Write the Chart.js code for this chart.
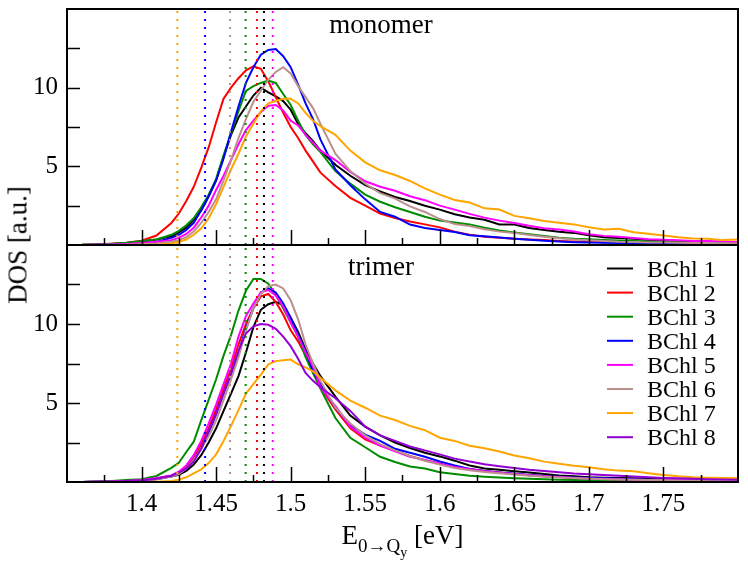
<!DOCTYPE html>
<html>
<head>
<meta charset="utf-8">
<script src="https://cdn.jsdelivr.net/npm/chart.js@4.4.1/dist/chart.umd.min.js"></script>
<style>
  body { margin: 0; background: #fff; }
  #wrap { position: relative; width: 748px; height: 562px; background: #fff; }
  canvas { position: absolute; left: 0; }
  #ylabel {
    position: absolute; left: 18px; top: 245px;
    transform: translate(-50%, -50%) rotate(-90deg);
    font: 27px "Liberation Serif", "Times New Roman", serif;
    white-space: nowrap; color: #000;
  }
</style>
</head>
<body>
<div id="wrap">
  <canvas id="chart-top" width="748" height="245" style="top:0"></canvas>
  <canvas id="chart-bottom" width="748" height="318" style="top:244px"></canvas>
  <div id="ylabel">DOS [a.u.]</div>
</div>
<script>
// energy grid [eV]
const energy = [1.36,1.37,1.38,1.39,1.40,1.41,1.42,
  1.425,1.43,1.435,1.44,1.445,1.45,1.455,1.46,1.465,1.47,1.475,1.48,1.485,1.49,1.495,1.50,1.505,1.51,1.515,1.52,
  1.53,1.54,1.55,1.56,1.57,1.58,1.59,1.60,1.61,1.62,1.63,1.64,1.65,1.66,1.67,1.68,1.69,1.70,
  1.71,1.72,1.73,1.74,1.75,1.76,1.77,1.78,1.79,1.80];

const labels = ['BChl 1','BChl 2','BChl 3','BChl 4','BChl 5','BChl 6','BChl 7','BChl 8'];
const colors = ['#000000','#ff0000','#008c00','#0000ff','#ff00ff','#bc8f8f','#ffa500','#9400d3'];

// monomer DOS
const mono1 = [0.01,0.03,0.07,0.12,0.22,0.35,0.55, 0.8,1.1,1.6, 2.2,3.1,4.1,5.6,7.0,8.1,8.8,9.5,10.0,9.7,9.45,9.15,8.6,7.7,7.1,6.6,6.0,
  5.1,4.4,3.8,3.4,3.05,2.8,2.5,2.25,1.95, 1.75,1.6,1.3,1.3,1.08,0.95,0.84,0.77,0.62,0.5,0.45,0.39,0.32,0.28,0.25,0.23,0.2,0.17,0.14];
const mono2 = [0.01,0.03,0.08,0.15,0.27,0.6,1.4, 2.0,2.8,3.7, 4.9,6.2,7.8,9.3,10.0,10.6,11.1,11.35,11.2,10.4,9.4,8.4,7.5,6.8,6.0,5.3,4.6,
  3.75,3.0,2.5,2.0,1.72,1.5,1.31,1.12,0.85, 0.66,0.53,0.46,0.4,0.35,0.31,0.26,0.22,0.2,0.17,0.16,0.14,0.12,0.11,0.1,0.09,0.08,0.07,0.07];
const mono3 = [0.01,0.03,0.08,0.15,0.25,0.35,0.65, 0.9,1.25,1.7, 2.4,3.2,4.2,5.7,7.1,8.5,9.8,10.1,10.3,10.45,10.3,9.6,8.9,7.9,7.0,6.4,5.9,
  4.7,3.9,3.2,2.75,2.4,2.1,1.8,1.55,1.43, 1.31,1.1,0.93,0.8,0.68,0.58,0.46,0.39,0.36,0.32,0.29,0.25,0.22,0.19,0.17,0.15,0.13,0.11,0.1];
const mono4 = [0.0,0.01,0.02,0.05,0.1,0.2,0.45, 0.65,0.95,1.4, 2.2,3.1,4.1,5.5,7.2,8.8,10.3,11.3,12.1,12.4,12.45,12.0,11.3,10.2,9.0,8.0,6.7,
  4.8,3.8,2.9,2.1,1.8,1.3,1.08,0.96,0.82, 0.62,0.55,0.47,0.4,0.33,0.27,0.22,0.18,0.16,0.14,0.12,0.11,0.1,0.09,0.09,0.08,0.08,0.07,0.07];
const mono5 = [0.0,0.01,0.03,0.06,0.12,0.2,0.3, 0.45,0.7,1.1, 1.75,2.5,3.5,4.4,5.4,6.4,7.3,7.9,8.45,8.85,8.9,8.55,7.9,7.6,7.0,6.5,6.0,
  5.4,4.65,4.05,3.7,3.45,3.1,2.85,2.5,2.25, 1.98,1.74,1.55,1.4,1.22,1.07,0.99,0.86,0.69,0.58,0.53,0.45,0.37,0.33,0.3,0.26,0.25,0.22,0.18];
const mono6 = [0.0,0.0,0.01,0.02,0.05,0.1,0.2, 0.3,0.5,0.85, 1.4,2.1,2.9,4.1,5.4,6.8,8.0,9.1,9.8,10.5,11.0,11.3,10.9,10.1,9.4,8.7,7.7,
  5.8,4.7,3.9,3.3,2.95,2.45,2.1,1.65,1.33, 1.2,1.0,0.85,0.77,0.63,0.52,0.43,0.35,0.3,0.26,0.21,0.19,0.16,0.155,0.145,0.13,0.12,0.11,0.1];
const mono7 = [0.0,0.0,0.0,0.0,0.01,0.02,0.1, 0.2,0.35,0.65, 1.05,1.7,2.6,3.7,4.8,5.8,6.9,7.7,8.5,9.0,9.15,9.3,9.3,9.0,8.4,7.9,7.55,
  7.0,6.0,5.25,4.75,4.45,4.07,3.6,3.2,2.86, 2.7,2.33,2.25,1.85,1.7,1.52,1.42,1.31,1.13,0.99,1.03,0.81,0.71,0.61,0.49,0.41,0.39,0.31,0.35];

// trimer DOS
const tri1 = [0.0,0.01,0.03,0.06,0.1,0.18,0.35, 0.45,0.7,1.1, 1.7,2.5,3.4,4.5,5.6,6.7,8.2,9.8,10.9,11.25,11.4,11.2,10.4,9.5,8.4,7.5,6.7,
  5.4,4.2,3.5,2.95,2.5,2.15,1.85,1.62,1.35, 1.05,0.86,0.77,0.68,0.6,0.5,0.41,0.36,0.3,0.27,0.26,0.24,0.22,0.2,0.17,0.16,0.15,0.14,0.13];
const tri2 = [0.0,0.02,0.03,0.05,0.1,0.22,0.4, 0.6,0.95,1.5, 2.4,3.4,4.6,5.9,7.2,8.7,10.0,11.0,11.75,11.9,11.4,10.6,9.6,8.9,8.0,7.2,6.0,
  4.6,3.4,2.7,2.3,2.0,1.65,1.38,1.15,0.95, 0.82,0.7,0.6,0.5,0.43,0.37,0.32,0.27,0.23,0.2,0.17,0.15,0.13,0.12,0.11,0.1,0.09,0.08,0.08];
const tri3 = [0.0,0.03,0.07,0.12,0.17,0.38,0.9, 1.22,1.9,2.55, 3.9,5.2,6.5,8.0,9.3,10.85,12.1,12.85,12.85,12.55,11.85,11.0,10.1,9.2,7.9,6.9,5.9,
  4.05,2.8,2.2,1.6,1.27,0.98,0.85,0.62,0.5, 0.4,0.33,0.28,0.23,0.2,0.17,0.15,0.13,0.11,0.1,0.09,0.08,0.07,0.06,0.06,0.05,0.05,0.05,0.05];
const tri4 = [0.0,0.01,0.02,0.05,0.1,0.2,0.38, 0.55,0.85,1.4, 2.1,3.1,4.3,5.6,6.8,8.2,9.7,11.0,12.0,12.25,12.0,11.3,10.4,9.3,8.3,7.0,6.2,
  4.7,3.6,3.0,2.6,2.1,1.85,1.6,1.3,1.04, 0.83,0.7,0.6,0.52,0.45,0.38,0.34,0.29,0.26,0.23,0.2,0.18,0.15,0.14,0.13,0.12,0.12,0.11,0.11];
const tri5 = [0.0,0.02,0.03,0.06,0.12,0.25,0.42, 0.65,1.05,1.7, 2.6,3.7,4.9,6.2,7.5,9.2,10.5,11.3,12.0,12.15,11.8,11.1,10.1,9.2,8.2,7.3,6.0,
  4.8,3.5,2.8,2.3,1.95,1.6,1.4,1.15,0.95, 0.8,0.68,0.58,0.5,0.42,0.36,0.31,0.26,0.22,0.19,0.17,0.15,0.13,0.12,0.11,0.1,0.09,0.09,0.08];
const tri6 = [0.0,0.01,0.02,0.04,0.08,0.18,0.35, 0.5,0.85,1.4, 2.1,2.9,3.9,5.2,6.5,7.9,9.6,11.0,11.9,12.4,12.5,12.25,11.5,10.3,8.7,7.5,6.4,
  4.7,3.7,2.95,2.4,2.0,1.65,1.35,1.1,0.88, 0.75,0.64,0.55,0.47,0.4,0.34,0.29,0.25,0.21,0.18,0.16,0.14,0.12,0.11,0.1,0.09,0.08,0.08,0.07];
const tri7 = [0.0,0.0,0.0,0.0,0.0,0.02,0.06, 0.15,0.3,0.55, 0.8,1.2,1.75,2.6,3.55,4.55,5.6,6.2,6.8,7.45,7.65,7.7,7.75,7.45,7.25,7.0,6.6,
  5.8,5.15,4.7,4.2,3.92,3.55,3.28,2.8,2.6, 2.3,2.13,1.93,1.68,1.5,1.29,1.16,1.03,0.94,0.8,0.72,0.68,0.56,0.45,0.36,0.3,0.27,0.25,0.24];
const tri8 = [0.0,0.01,0.03,0.06,0.1,0.2,0.4, 0.6,0.85,1.3, 2.1,3.25,4.3,5.6,6.9,8.3,9.4,9.85,10.0,9.95,9.7,9.2,8.6,7.8,6.9,6.4,6.0,
  5.3,4.5,3.5,2.95,2.6,2.25,2.0,1.75,1.48, 1.3,1.12,1.0,0.89,0.78,0.7,0.62,0.54,0.49,0.44,0.4,0.35,0.3,0.26,0.23,0.2,0.18,0.16,0.15];

// site energies of the monomer (dotted lines), BChl 1..7
const peakEnergy = [1.4821, 1.4774, 1.4698, 1.4426, 1.488, 1.4593, 1.424];

const xMajor = [1.4, 1.45, 1.5, 1.55, 1.6, 1.65, 1.7, 1.75];
const xMinor = [1.375, 1.425, 1.475, 1.525, 1.575, 1.625, 1.675, 1.725, 1.775];
const yLabels = [5, 10];
const yTickMarks = [2.5, 5, 7.5, 10, 12.5];

const serif = '"Liberation Serif", "Times New Roman", serif';

function curve(vals, i) {
    return {
        label: labels[i],
        data: energy.map((e, k) => ({ x: e, y: vals[k] })),
        borderColor: colors[i],
        borderWidth: 2,
        pointRadius: 0,
        tension: 0,
        fill: false,
        order: 10 - i
    };
}

function dotted(e, i) {
    return {
        label: '',
        data: [{ x: e, y: 0 }, { x: e, y: 15 }],
        borderColor: colors[i],
        borderWidth: 2,
        borderDash: [2, 6],
        pointRadius: 0,
        fill: false,
        order: 0
    };
}

const framePlugin = {
    id: 'frame',
    afterDraw(chart, args, opts) {
        const ctx = chart.ctx;
        const a = chart.chartArea;
        const xs = chart.scales.x, ys = chart.scales.y;
        ctx.save();
        ctx.strokeStyle = '#000';
        ctx.lineWidth = 2;
        ctx.strokeRect(a.left, a.top, a.right - a.left, a.bottom - a.top);
        ctx.lineWidth = 1.5;
        ctx.beginPath();
        xMajor.forEach(v => {
            const px = Math.round(xs.getPixelForValue(v)) + 0.5;
            ctx.moveTo(px, a.bottom); ctx.lineTo(px, a.bottom - 15);
        });
        xMinor.forEach(v => {
            const px = Math.round(xs.getPixelForValue(v)) + 0.5;
            ctx.moveTo(px, a.bottom); ctx.lineTo(px, a.bottom - 7);
        });
        yTickMarks.forEach(v => {
            const py = Math.round(ys.getPixelForValue(v)) + 0.5;
            ctx.moveTo(a.left, py); ctx.lineTo(a.left + 13, py);
        });
        ctx.stroke();

        ctx.fillStyle = '#000';
        ctx.textAlign = 'center';
        ctx.textBaseline = 'alphabetic';
        ctx.font = '27px ' + serif;
        ctx.fillText(opts.title, 381, a.top + opts.titleY);

        if (opts.legend) {
            ctx.font = '24px ' + serif;
            ctx.textAlign = 'left';
            chart.data.datasets.filter(d => d.label).forEach((d, i) => {
                const y = a.top + 23.5 + i * 24.1;
                ctx.strokeStyle = d.borderColor;
                ctx.lineWidth = 2;
                ctx.beginPath();
                ctx.moveTo(a.right - 131, y); ctx.lineTo(a.right - 105, y);
                ctx.stroke();
                ctx.fillText(d.label, a.right - 91, y + 8);
            });

            // x axis title  E_{0->Q_y} [eV]
            const base = a.bottom + 62;
            const parts = [
                { t: 'E', f: 27, dy: 0 },
                { t: '0\u2192Q', f: 19, dy: 8 },
                { t: 'y', f: 14, dy: 13 },
                { t: ' [eV]', f: 27, dy: 0 }
            ];
            let w = 0;
            parts.forEach(p => { ctx.font = p.f + 'px ' + serif; p.w = ctx.measureText(p.t).width; w += p.w; });
            let x = (a.left + a.right) / 2 - w / 2;
            parts.forEach(p => {
                ctx.font = p.f + 'px ' + serif;
                ctx.fillText(p.t, x, base + p.dy);
                x += p.w;
            });
        }
        ctx.restore();
    }
};

function makePanel(id, series, bottom) {
    const datasets = peakEnergy.map(dotted).concat(series.map(curve));
    return new Chart(document.getElementById(id).getContext('2d'), {
        type: 'line',
        data: { datasets: datasets },
        plugins: [framePlugin],
        options: {
            responsive: false,
            animation: false,
            layout: { padding: { left: 0, right: 10, top: bottom ? 1 : 9, bottom: 0 } },
            plugins: {
                legend: { display: false },
                tooltip: { enabled: false },
                frame: { title: bottom ? 'trimer' : 'monomer', titleY: bottom ? 30 : 24, legend: bottom }
            },
            scales: {
                x: {
                    type: 'linear',
                    min: 1.35,
                    max: 1.8,
                    display: bottom,
                    grid: { display: false, drawTicks: false },
                    border: { display: false },
                    ticks: {
                        color: '#000',
                        font: { family: serif, size: 25 },
                        padding: 7,
                        maxRotation: 0,
                        callback: v => String(Number(v.toFixed(2)))
                    },
                    afterBuildTicks: s => { s.ticks = xMajor.map(v => ({ value: v })); },
                    afterFit: s => {
                        s.height = bottom ? 80 : 0;
                        s.paddingLeft = 0; s.paddingRight = 0;
                    }
                },
                y: {
                    min: 0,
                    max: 15,
                    grid: { display: false, drawTicks: false },
                    border: { display: false },
                    ticks: {
                        color: '#000',
                        font: { family: serif, size: 25 },
                        padding: 9
                    },
                    afterBuildTicks: s => { s.ticks = yLabels.map(v => ({ value: v })); },
                    afterFit: s => {
                        s.width = 67;
                        s.paddingTop = 0; s.paddingBottom = 0;
                    }
                }
            }
        }
    });
}

makePanel('chart-top', [mono1, mono2, mono3, mono4, mono5, mono6, mono7], false);
makePanel('chart-bottom', [tri1, tri2, tri3, tri4, tri5, tri6, tri7, tri8], true);
</script>
</body>
</html>
